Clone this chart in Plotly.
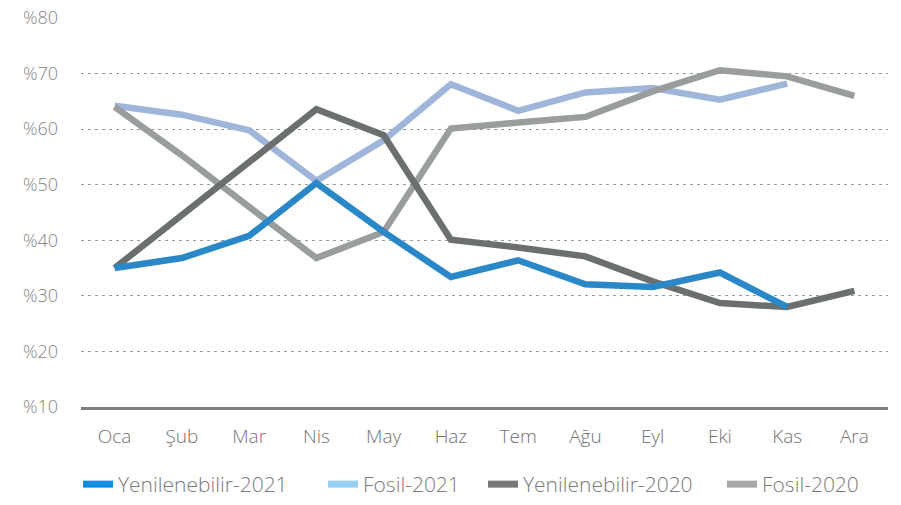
import plotly.graph_objects as go

months = ["Oca", "Şub", "Mar", "Nis", "May", "Haz", "Tem", "Ağu", "Eyl", "Eki", "Kas", "Ara"]

yenilenebilir_2021 = [35.0, 36.8, 40.8, 50.3, 41.5, 33.4, 36.4, 32.1, 31.6, 34.2, 28.0, None]
fosil_2021 = [64.2, 62.6, 59.8, 50.7, 58.0, 68.1, 63.3, 66.6, 67.4, 65.3, 68.2, None]
yenilenebilir_2020 = [35.0, 44.6, 54.3, 63.6, 58.9, 40.1, 38.7, 37.1, 32.6, 28.7, 28.0, 30.9]
fosil_2020 = [64.0, 55.3, 46.0, 36.8, 41.5, 60.1, 61.2, 62.2, 66.8, 70.6, 69.5, 66.0]

series_names = ["Yenilenebilir-2021", "Fosil-2021", "Yenilenebilir-2020", "Fosil-2020"]
series_values = [yenilenebilir_2021, fosil_2021, yenilenebilir_2020, fosil_2020]
line_colors = ["#2a87c8", "#9fb6da", "#6b6f6f", "#9a9d9d"]
legend_colors = ["#0a8ee0", "#98cff2", "#787878", "#a8a8a8"]
legend_ids = ["legend", "legend2", "legend3", "legend4"]
legend_x_px = [78, 323, 483, 722]

y_ticks = [10, 20, 30, 40, 50, 60, 70, 80]
y_ticktext = ["%" + str(v) for v in y_ticks]

font_family = "Open Sans, Noto Sans, sans-serif"
W, H = 901, 505

fig = go.Figure()
for idx in [1, 3, 2, 0]:
    fig.add_trace(go.Scatter(
        x=months, y=series_values[idx], mode="lines", name=series_names[idx],
        line=dict(color=line_colors[idx], width=6.5), showlegend=False,
        connectgaps=False,
    ))
for name, col, lg in zip(series_names, legend_colors, legend_ids):
    fig.add_trace(go.Scatter(
        x=[None], y=[None], mode="lines", name=name,
        line=dict(color=col, width=7), showlegend=True, legend=lg,
    ))

legend_common = dict(
    orientation="h", xref="container", yref="container",
    xanchor="left", yanchor="bottom", y=0,
    font=dict(size=21, color="#7a7a7a", family=font_family, weight=300),
    bgcolor="rgba(0,0,0,0)", borderwidth=0,
)
layout_legends = {}
for lg, xp in zip(legend_ids, legend_x_px):
    layout_legends[lg] = dict(legend_common, x=xp / W)

fig.update_layout(
    width=W, height=H,
    margin=dict(l=81, r=13, t=18, b=98, autoexpand=False),
    paper_bgcolor="white", plot_bgcolor="white",
    font=dict(family=font_family, color="#7f7f7f", size=18, weight=300),
    showlegend=True,
    **layout_legends,
)
fig.update_xaxes(
    type="category", categoryorder="array", categoryarray=months,
    showgrid=False, showline=True, linecolor="#7f7f7f", linewidth=2.5,
    ticks="", ticklabelstandoff=10, automargin=False,
    tickfont=dict(size=19, color="#737373", family=font_family, weight=300),
    range=[-0.5, 11.5],
)
fig.update_yaxes(
    range=[10, 80], tickvals=y_ticks, ticktext=y_ticktext,
    showgrid=True, gridcolor="#9a9a9a", gridwidth=1, griddash="3px,4px",
    zeroline=False, showline=False, ticks="", ticklabelstandoff=22, automargin=False,
    tickfont=dict(size=18, color="#858585", family=font_family, weight=300),
)

fig.write_html(
    "out.html",
    config={"displayModeBar": False},
    post_script="document.body.style.margin='0';document.body.style.overflow='hidden';",
)
